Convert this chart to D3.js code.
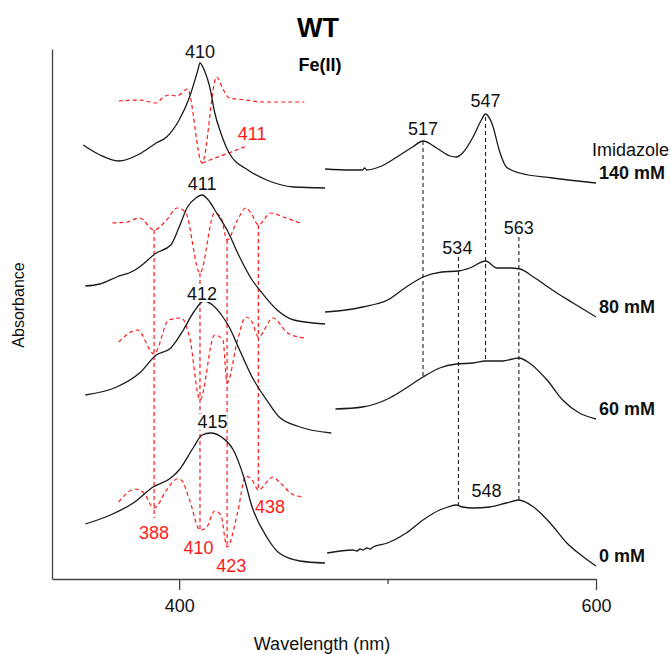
<!DOCTYPE html>
<html>
<head>
<meta charset="utf-8">
<script src="https://cdn.jsdelivr.net/npm/d3@7"></script>
<style>
  html, body { margin: 0; padding: 0; background: #fff; }
  svg { display: block; font-family: "Liberation Sans", Arial, Helvetica, sans-serif; }
</style>
</head>
<body>
<svg id="chart" width="670" height="654"></svg>
<script>
// WT Fe(II) spectra at increasing imidazole concentration.
// Values are [wavelength (nm), absorbance (a.u., traces offset for clarity)].

// Soret region, absorbance traces
const soret140 = [[354,4.34],[362,4.24],[371,4.18],[381,4.25],[389,4.36],[394,4.42],[400,4.59],[405,4.82],[409,5.09],[410,5.16],[412,5.09],[415,4.89],[417,4.67],[420,4.46],[424,4.26],[433,4.09],[442,3.99],[455,3.92],[470,3.91]];
const soret80  = [[355,2.93],[362,2.95],[370,3.02],[378,3.08],[381,3.12],[389,3.26],[396,3.34],[400,3.52],[404,3.72],[408,3.81],[411,3.84],[414,3.79],[418,3.66],[423,3.49],[429,3.22],[435,2.99],[439,2.88],[447,2.69],[455,2.59],[470,2.55]];
const soret60  = [[355,1.84],[370,1.92],[381,2.06],[389,2.24],[396,2.31],[402,2.49],[407,2.67],[412,2.78],[416,2.74],[421,2.62],[424,2.52],[429,2.29],[435,2.02],[442,1.79],[448,1.62],[458,1.52],[473,1.46]];
const soret0   = [[355,0.55],[367,0.64],[378,0.76],[387.5,0.92],[396,1.01],[400,1.09],[407,1.32],[411,1.44],[415,1.46],[421,1.41],[426,1.29],[431,1.02],[435,0.72],[442,0.42],[448,0.26],[458,0.18],[470,0.16]];

// Soret region, second-derivative traces
const deriv140 = [[371,4.78],[381,4.79],[389,4.76],[392,4.81],[395,4.84],[399,4.83],[404,4.90],[411,4.16],[418,5.02],[421,4.90],[424,4.81],[432,4.79],[440,4.77],[460,4.77]];
const deriv80  = [[368,3.56],[375,3.57],[381,3.61],[388,3.49],[394,3.59],[399,3.71],[403,3.67],[410,3.06],[417,3.66],[420,3.62],[423,3.39],[428,3.59],[432,3.71],[435,3.64],[438,3.54],[444,3.66],[450,3.62],[458,3.56]];
const deriv60  = [[371,2.37],[380,2.49],[388,2.25],[395,2.59],[401,2.61],[405,2.42],[410,1.79],[417,2.44],[421,2.39],[423,1.96],[428,2.39],[432,2.62],[435,2.57],[438,2.42],[445,2.61],[452,2.46],[460,2.41]];
const deriv0   = [[371,0.77],[379,0.90],[383,0.86],[388,0.71],[394,0.89],[399,1.00],[401,0.99],[405,0.79],[410,0.49],[413,0.51],[417,0.68],[420,0.64],[423,0.32],[428,0.66],[432,1.03],[435,0.99],[438,0.89],[445,1.02],[448,0.97],[455,0.84],[460,0.82]];

// Visible (Q-band) region, absorbance traces
const visible140 = [[470,4.10],[482,4.09],[488,4.09],[489,4.11],[490,4.09],[496,4.12],[504.5,4.22],[512,4.32],[517,4.38],[523.5,4.31],[530,4.23],[533,4.22],[536,4.26],[541,4.42],[545,4.59],[547,4.65],[550,4.56],[554,4.26],[557,4.12],[563.5,4.06],[579,4.01],[600,3.96]];
const visible80  = [[470,2.67],[480,2.69],[488,2.72],[500,2.79],[509,2.92],[517,3.02],[526,3.07],[534,3.08],[539.5,3.11],[547,3.18],[552.5,3.11],[558.7,3.11],[563.5,3.10],[570,3.02],[579,2.89],[589,2.76],[600,2.62]];
const visible60  = [[475,1.70],[488,1.72],[501,1.81],[509,1.91],[517,2.02],[525,2.11],[533,2.15],[541,2.16],[547,2.18],[555,2.18],[563,2.21],[568,2.16],[576.5,1.99],[584,1.79],[592,1.66],[600,1.60]];
const visible0   = [[471,0.26],[483.4,0.29],[485.3,0.28],[486.8,0.30],[488.2,0.29],[490.1,0.31],[491.6,0.30],[493,0.32],[500,0.36],[509,0.46],[517,0.59],[525,0.69],[529,0.72],[533,0.74],[536,0.72],[541,0.71],[549,0.72],[557,0.76],[563,0.79],[570,0.72],[578,0.56],[586,0.36],[594,0.22],[600,0.13]];

const concentrations = ["140 mM", "80 mM", "60 mM", "0 mM"];

// Guide lines at assigned band positions
const visibleGuides = [
  { nm: 517, top: 4.38, bottom: 2.02 },
  { nm: 547, top: 4.62, bottom: 2.18 },
  { nm: 534, top: 3.22, bottom: 0.74 },
  { nm: 563, top: 3.42, bottom: 0.79 }
];
const derivGuides = [
  { nm: 388, top: 3.49, bottom: 0.61 },
  { nm: 410, top: 3.06, bottom: 0.49 },
  { nm: 423, top: 3.39, bottom: 0.32 },
  { nm: 438, top: 3.54, bottom: 0.89 }
];
const derivLeader = [[411, 4.16], [432.6, 4.33]];

// Band labels: text and anchor (wavelength, absorbance)
const peakLabels = [
  { text: "410", nm: 410, a: 5.21, boxed: true },
  { text: "411", nm: 411, a: 3.89, boxed: true },
  { text: "412", nm: 411, a: 2.79, boxed: true },
  { text: "415", nm: 416, a: 1.51, boxed: true },
  { text: "517", nm: 517, a: 4.44 },
  { text: "547", nm: 547, a: 4.72 },
  { text: "534", nm: 533.5, a: 3.25 },
  { text: "563", nm: 563, a: 3.45 },
  { text: "548", nm: 547.5, a: 0.82 }
];
const derivLabels = [
  { text: "411", nm: 435, a: 4.39 },
  { text: "388", nm: 388, a: 0.40 },
  { text: "410", nm: 409.3, a: 0.25 },
  { text: "423", nm: 425, a: 0.07 },
  { text: "438", nm: 443.6, a: 0.66 }
];

const xTicks = [400, 500, 600];
const xTickLabels = { 400: "400", 600: "600" };

const svg = d3.select("#chart");
const x = d3.scaleLinear().domain([339, 600]).range([52, 596]);
const y = d3.scaleLinear().domain([0, 5.3]).range([579, 49]);

const RED = "#ff1a1a";
const INK = "#1a1a1a";

// Axes
const xAxis = svg.append("g")
  .attr("transform", `translate(0,${y(0)})`)
  .call(d3.axisBottom(x).tickValues(xTicks).tickSize(11).tickSizeOuter(0).tickPadding(9)
    .tickFormat(d => xTickLabels[d] || ""));
xAxis.select(".domain").attr("stroke", "#444").attr("stroke-width", 1.3);
xAxis.selectAll(".tick line").attr("stroke", "#444").attr("stroke-width", 1.3)
  .attr("y2", d => xTickLabels[d] ? 11 : 5);
xAxis.selectAll(".tick text").attr("font-size", 18).attr("fill", "#111")
  .style("font-family", "Liberation Sans, Arial, sans-serif");

const yAxis = svg.append("g")
  .attr("transform", `translate(${x(339)},0)`)
  .call(d3.axisLeft(y).tickValues([]).tickSizeOuter(0));
yAxis.select(".domain").attr("stroke", "#444").attr("stroke-width", 1.3);

svg.append("text").attr("x", 322).attr("y", 650).attr("text-anchor", "middle")
  .attr("font-size", 18).attr("fill", "#111").text("Wavelength (nm)");
svg.append("text").attr("transform", "translate(24,305) rotate(-90)").attr("text-anchor", "middle")
  .attr("font-size", 16).attr("fill", "#111").text("Absorbance");

// Titles
svg.append("text").attr("x", 318).attr("y", 37).attr("text-anchor", "middle")
  .attr("font-size", 27).attr("font-weight", "bold").attr("fill", "#000").text("WT");
svg.append("text").attr("x", 320).attr("y", 71).attr("text-anchor", "middle")
  .attr("font-size", 18).attr("font-weight", "bold").attr("fill", "#000").text("Fe(II)");

const line = d3.line().x(d => x(d[0])).y(d => y(d[1])).curve(d3.curveMonotoneX);
const straight = d3.line().x(d => x(d[0])).y(d => y(d[1]));

// Red dashed guides through the derivative minima
svg.append("g").selectAll("line").data(derivGuides).join("line")
  .attr("x1", d => x(d.nm)).attr("x2", d => x(d.nm))
  .attr("y1", d => y(d.top)).attr("y2", d => y(d.bottom))
  .attr("stroke", RED).attr("stroke-width", 1.2).attr("stroke-dasharray", "4,3");
svg.append("path").attr("d", straight(derivLeader)).attr("fill", "none")
  .attr("stroke", RED).attr("stroke-width", 1.2).attr("stroke-dasharray", "4,3");

// Second-derivative traces
svg.append("g").selectAll("path").data([deriv140, deriv80, deriv60, deriv0]).join("path")
  .attr("d", line).attr("fill", "none")
  .attr("stroke", RED).attr("stroke-width", 1.2).attr("stroke-dasharray", "4,3");

// Black dashed guides in the visible region
svg.append("g").selectAll("line").data(visibleGuides).join("line")
  .attr("x1", d => x(d.nm)).attr("x2", d => x(d.nm))
  .attr("y1", d => y(d.top)).attr("y2", d => y(d.bottom))
  .attr("stroke", "#222").attr("stroke-width", 1.1).attr("stroke-dasharray", "4,3");

// Absorbance traces
const traces = [soret140, soret80, soret60, soret0, visible140, visible80, visible60, visible0];
svg.append("g").selectAll("path").data(traces).join("path")
  .attr("d", line).attr("fill", "none")
  .attr("stroke", INK).attr("stroke-width", 1.3);

// Band labels (white backing hides guides passing underneath)
const pl = svg.append("g").selectAll("g").data(peakLabels).join("g");
pl.append("text")
  .attr("x", d => x(d.nm)).attr("y", d => y(d.a)).attr("text-anchor", "middle")
  .attr("font-size", 18).attr("fill", "#111").text(d => d.text)
  .each(function (d) {
    if (!d.boxed) return;
    const b = this.getBBox();
    d3.select(this.parentNode).insert("rect", "text")
      .attr("x", b.x).attr("y", b.y + 2).attr("width", b.width).attr("height", b.height - 4)
      .attr("fill", "#fff");
  });

svg.append("g").selectAll("text").data(derivLabels).join("text")
  .attr("x", d => x(d.nm)).attr("y", d => y(d.a)).attr("text-anchor", "middle")
  .attr("font-size", 18).attr("fill", RED).text(d => d.text);

// Concentration labels at the end of each visible trace
const visibleTraces = [visible140, visible80, visible60, visible0];
svg.append("g").selectAll("text").data(concentrations).join("text")
  .attr("x", x(600) + 3)
  .attr("y", (d, i) => y(visibleTraces[i][visibleTraces[i].length - 1][1]) - 4)
  .attr("font-size", 18).attr("font-weight", "bold").attr("fill", "#111").text(d => d);
svg.append("text")
  .attr("x", x(600) - 4)
  .attr("y", y(visible140[visible140.length - 1][1]) - 27)
  .attr("font-size", 18).attr("fill", "#111").text("Imidazole");
</script>
</body>
</html>
